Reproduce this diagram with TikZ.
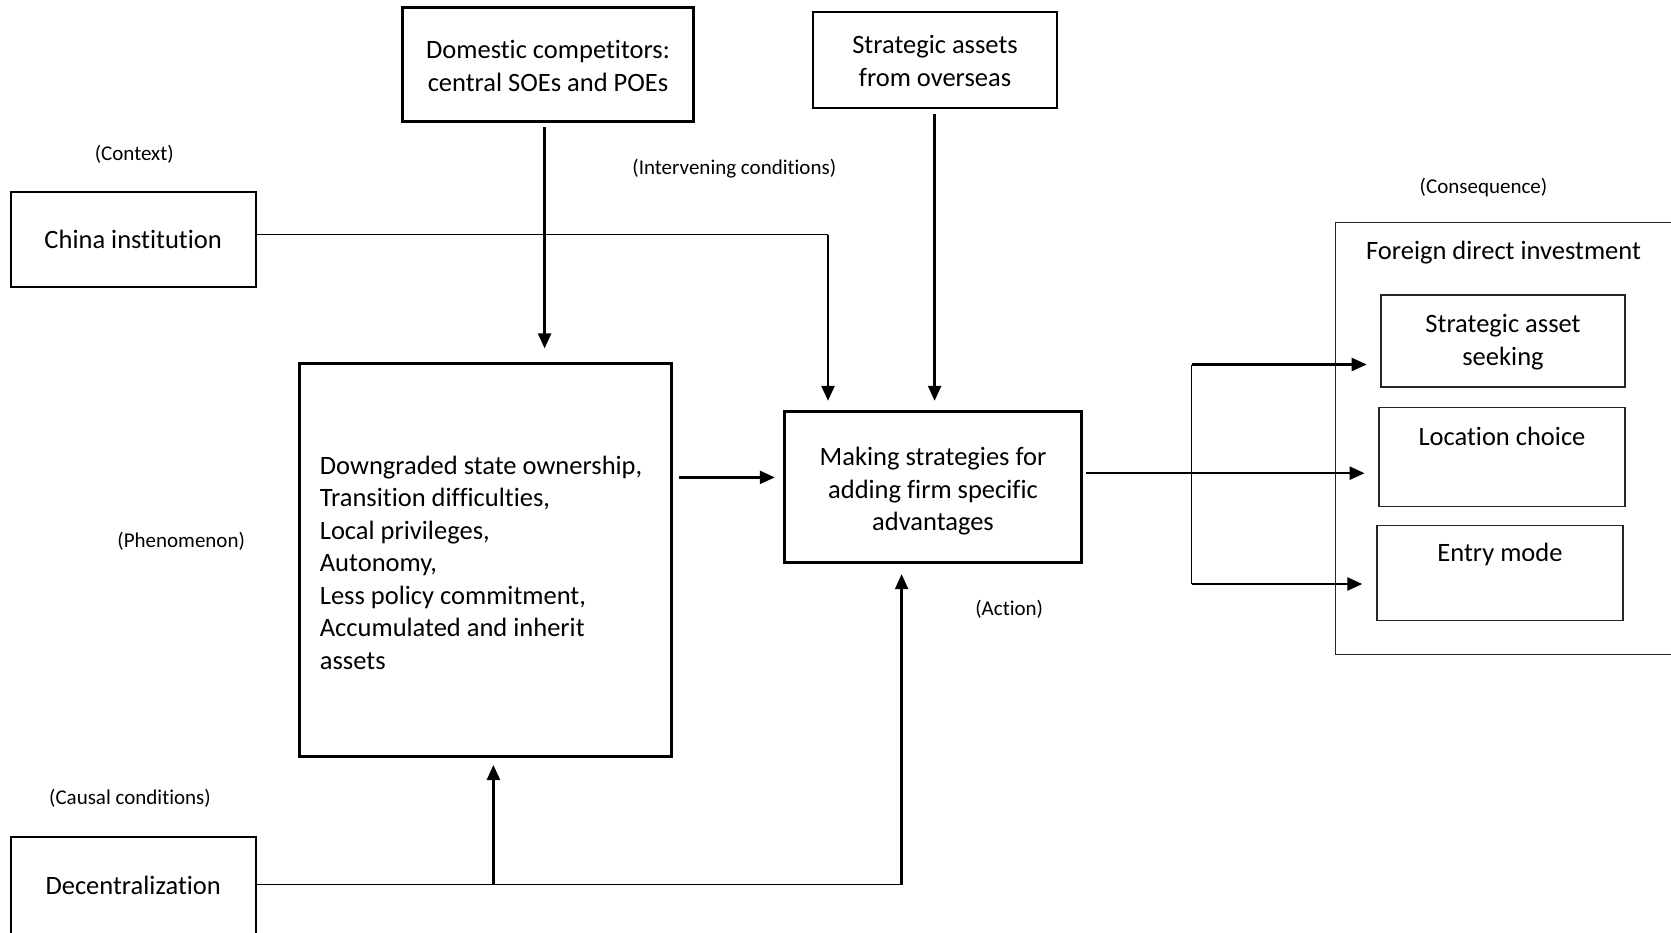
\documentclass[tikz,border=0pt]{standalone}
\usepackage{fontspec}
\setmainfont{Carlito}[Ligatures={NoCommon}]
\usetikzlibrary{arrows.meta,calc}
\begin{document}
\begin{tikzpicture}[x=1pt,y=-1pt,
  box/.style={draw=black, line width=2.2pt, inner sep=0pt, font=\fontsize{26.5}{32.5}\selectfont, align=center},
  ibox/.style={draw=black!85, line width=1.3pt, inner sep=0pt, font=\fontsize{26.5}{32.5}\selectfont, align=center},
  lbl/.style={font=\fontsize{21}{25}\selectfont, inner sep=0pt},
  btxt/.style={font=\fontsize{26.5}{32.5}\selectfont, inner sep=0pt, align=center},
  arr/.style={line width=2.4pt, -{Triangle[length=15pt,width=13pt]}},
  thin/.style={line width=1.5pt}]
\useasboundingbox (0,0) rectangle (1671,933);
\clip (0,0) rectangle (1671,933);
% boxes
\node[box, minimum width=291, minimum height=114] (dom) at (548,64.5) {};
\node[btxt] (domt) at (548,66) {Domestic competitors:\\central SOEs and POEs};
\node[box, minimum width=244, minimum height=96] (sa) at (935,59.7) {};
\node[btxt] (sat) at (935,61) {Strategic assets\\from overseas};
\node[box, minimum width=245, minimum height=95] (china) at (133.2,239.2) {China institution};
\node[box, minimum width=245, minimum height=97.4] (dec) at (133.2,885.3) {Decentralization};
\node[box, minimum width=372, minimum height=393] (phen) at (485.4,560) {};
\node[btxt, align=flush left, text width=331] (phent) at (485.4,562.5) {Downgraded state ownership,\\Transition difficulties,\\Local privileges,\\Autonomy,\\Less policy commitment,\\Accumulated and inherit\\assets};
\node[box, minimum width=297, minimum height=151] (make) at (933,487) {};
\node[btxt] (maket) at (933,491.5) {Making strategies for\\adding firm specific\\advantages};
% FDI
\draw[line width=1.3pt, draw=black!85] (1673,222.7) -- (1335.3,222.7) coordinate (fdinw) -- (1335.3,654.3) -- (1673,654.3);
\node[btxt] (fdit) at (1503.5,252.5) {Foreign direct investment};
\node[ibox, minimum width=244, minimum height=92] (sas) at (1503,341) {};
\node[btxt] (sast) at (1503,342) {Strategic asset\\seeking};
\node[ibox, minimum width=246, minimum height=99] (loc) at (1502,456.7) {};
\node[btxt] (loct) at (1502,436.5) {Location choice};
\node[ibox, minimum width=246, minimum height=95] (ent) at (1500,572.8) {};
\node[btxt] (entt) at (1500,554) {Entry mode};
% labels
\node[lbl] (lctx) at (134.3,153.8) {(Context)};
\node[lbl] (lint) at (734.3,168.7) {(Intervening conditions)};
\node[lbl] (lcon) at (1483.5,187.9) {(Consequence)};
\node[lbl] (lphe) at (181.2,541.7) {(Phenomenon)};
\node[lbl] (lact) at (1009.2,608.8) {(Action)};
\node[lbl] (lcau) at (130,798.4) {(Causal conditions)};
% connectors
\draw[arr, shorten <=4pt, shorten >=14pt] ([xshift=-3.4pt]dom.south) -- ([xshift=-3.4pt]dom.south |- phen.north);
\draw[arr, shorten <=5pt, shorten >=9.6pt] ([xshift=-0.4pt]sa.south) -- ([xshift=-0.4pt]sa.south |- make.north);
\coordinate (cx) at ($(make.north)+(-105,0)$);
\draw[thin] ([yshift=4.5pt]china.east) -- ([yshift=4.5pt]china.east -| cx);
\draw[arr, shorten >=9.6pt] ([yshift=4.5pt]china.east -| cx) -- (cx);
\draw[arr, shorten <=6.4pt, shorten >=8.6pt] ([yshift=82.6pt]phen.east) -- ([yshift=82.6pt]phen.east -| make.west);
\coordinate (dx) at ($(make.south)+(-31.4,0)$);
\coordinate (px) at ($(phen.south)+(8,0)$);
\draw[thin] ([yshift=0.8pt]dec.east) -- ([yshift=0.8pt]dec.east -| dx);
\draw[arr, shorten >=7.4pt] ([yshift=0.8pt]dec.east -| px) -- (px);
\draw[arr, shorten >=10.6pt] ([yshift=0.8pt]dec.east -| dx) -- (dx);
\draw[arr, shorten <=3.2pt, shorten >=13.8pt] ([yshift=13.8pt]make.east) -- ([yshift=13.8pt]make.east -| loc.west);
\coordinate (jt) at (1191.5,364.5);
\coordinate (jb) at (1191.5,584);
\draw[thin] (jt) -- (jb);
\draw[arr, shorten >=13.7pt] (jt) -- (jt -| sas.west);
\draw[arr, shorten >=14pt] (jb) -- (jb -| ent.west);
\end{tikzpicture}
\end{document}
